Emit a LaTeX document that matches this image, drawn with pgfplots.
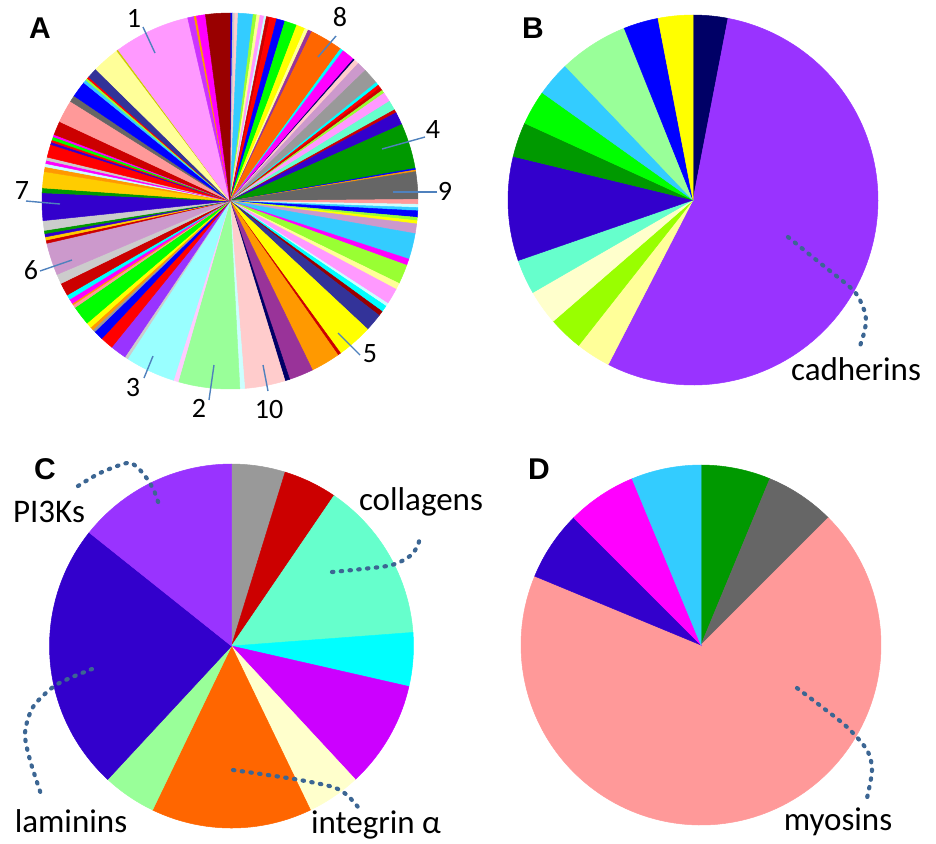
\documentclass[border=0pt]{standalone}
\usepackage{pgfplots}
\pgfplotsset{compat=1.18}
\usepackage{fontspec}
\setmainfont{Carlito}
\newfontfamily\arialfont{Liberation Sans}

\definecolor{darkred}{HTML}{990000}
\definecolor{dkredb}{HTML}{CC0000}
\definecolor{pblue}{HTML}{0000FF}
\definecolor{ltgray}{HTML}{CCCCCC}
\definecolor{ltpink}{HTML}{FFCCCC}
\definecolor{sky}{HTML}{33CCFF}
\definecolor{ygreen}{HTML}{99FF33}
\definecolor{ygreenb}{HTML}{99FF00}
\definecolor{ltyellow}{HTML}{FFFF99}
\definecolor{paleyellow}{HTML}{FFFFCC}
\definecolor{ppink}{HTML}{FF99FF}
\definecolor{ltcyan}{HTML}{CCFFFF}
\definecolor{ltcyanb}{HTML}{99FFFF}
\definecolor{pred}{HTML}{FF0000}
\definecolor{lime}{HTML}{00FF00}
\definecolor{pyellow}{HTML}{FFFF00}
\definecolor{purpleb}{HTML}{993399}
\definecolor{porange}{HTML}{FF6600}
\definecolor{orangeb}{HTML}{FF9900}
\definecolor{pcyan}{HTML}{00FFFF}
\definecolor{pmagenta}{HTML}{FF00FF}
\definecolor{navy}{HTML}{000066}
\definecolor{plum}{HTML}{CC99CC}
\definecolor{pgray}{HTML}{999999}
\definecolor{dgray}{HTML}{666666}
\definecolor{aqua}{HTML}{66FFCC}
\definecolor{indigo}{HTML}{3300CC}
\definecolor{pgreen}{HTML}{009900}
\definecolor{gold}{HTML}{FFCC00}
\definecolor{salmon}{HTML}{FF9999}
\definecolor{slate}{HTML}{333399}
\definecolor{ltgreen}{HTML}{99FF99}
\definecolor{pinklt}{HTML}{FFCCFF}
\definecolor{violet}{HTML}{9933FF}
\definecolor{violetb}{HTML}{CC33FF}
\definecolor{violetc}{HTML}{CC00FF}
\definecolor{olive}{HTML}{CCCC00}
\definecolor{leader}{HTML}{4F81BD}
\definecolor{dotc}{HTML}{3C6693}

% one slice: cx, cy, r, start angle, end angle (clockwise from 12 o'clock), colour
\newcommand\pieslice[6]{%
  \pgfmathsetmacro\myspan{#5-#4}%
  \pgfmathtruncatemacro\nseg{max(1,ceil(\myspan/2))}%
  \pgfmathsetmacro\mystep{\myspan/\nseg}%
  \xdef\coordlist{(#1,#2)}%
  \foreach \k in {0,...,\nseg}{%
    \pgfmathsetmacro\ang{#4+\mystep*\k}%
    \pgfmathsetmacro\px{#1+#3*sin(\ang)}%
    \pgfmathsetmacro\py{#2-#3*cos(\ang)}%
    \xdef\coordlist{\coordlist (\px,\py)}%
  }%
  \edef\temp{\noexpand\addplot[fill=#6,draw=#6,line width=0.25pt] coordinates {\coordlist} -- cycle;}%
  \temp
}
% a pie: cx, cy, r, degrees per unit, list value/colour
\newcommand\drawpie[5]{%
  \gdef\pieacc{0}%
  \pgfmathsetmacro\unitdeg{#4}%
  \foreach \v/\c in {#5}{%
    \pgfmathsetmacro\aone{\pieacc}%
    \pgfmathsetmacro\atwo{\pieacc+\v*\unitdeg}%
    \pieslice{#1}{#2}{#3}{\aone}{\atwo}{\c}%
    \xdef\pieacc{\atwo}%
  }%
}

\begin{document}
\begin{tikzpicture}
\begin{axis}[at={(0,0)},anchor=south west,width=468pt,height=421.5pt,scale only axis,
  xmin=0,xmax=936,ymin=0,ymax=843,y dir=reverse,hide axis,clip=false]

% ---------- Pie A (values in degrees) ----------
\drawpie{230}{201}{188}{1}{0.8/pblue,0.7/ltgray,1.0/ltpink,4.6/sky,1.1/ygreen,1.0/ltyellow,1.3/ppink,0.7/ltcyan,1.1/dkredb,2.1/pred,2.6/pblue,3.8/lime,2.7/pyellow,1.1/ltyellow,1.2/purpleb,10.2/porange,1.0/pcyan,4.0/pmagenta,0.5/navy,1.5/ltpink,3.0/plum,5.0/pgray,1.0/pcyan,1.0/pred,1.0/dkredb,1.0/ygreen,3.0/ppink,3.0/aqua,1.0/dkredb,4.0/indigo,14.0/pgreen,0.5/pblue,0.5/orangeb,8.5/dgray,1.5/salmon,1.0/ltcyan,1.0/sky,2.0/pblue,1.0/ygreen,1.0/pyellow,3.0/plum,8.0/sky,2.0/pmagenta,6.0/ygreen,2.0/ltyellow,5.0/ppink,1.0/ltcyan,2.0/pcyan,1.5/darkred,5.5/slate,11.0/pyellow,1.0/dkredb,9.0/orangeb,7.5/purpleb,1.5/navy,12.5/ltpink,1.5/ltcyan,19.0/ltgreen,1.5/pinklt,15.5/ltcyanb,1.0/ltgray,5.0/violet,4.0/pred,3.0/pblue,0.8/pgray,1.0/orangeb,1.7/pyellow,6.0/lime,1.0/salmon,0.5/orangeb,1.5/pmagenta,1.5/pcyan,4.0/dkredb,3.0/ltgray,10.0/plum,1.0/dkredb,1.0/gold,1.0/indigo,1.0/pgreen,3.0/ltgray,8.5/indigo,1.5/pgreen,5.0/gold,1.5/orangeb,1.0/ltcyan,1.0/pmagenta,1.0/ltgray,4.0/pred,0.8/indigo,0.7/pred,1.0/lime,0.7/pmagenta,4.3/dkredb,7.0/salmon,2.0/dgray,5.0/pblue,1.0/sky,0.7/ygreen,0.6/pred,3.2/slate,8.5/ltyellow,0.5/olive,23.5/ppink,2.0/violetb,0.7/orangeb,2.8/pmagenta,7.5/darkred}

% ---------- Pie B (33 units) ----------
\drawpie{693}{200}{185}{360/33}{1/navy,18/violet,1/ltyellow,1/ygreenb,1/paleyellow,1/aqua,3/indigo,1/pgreen,1/lime,1/sky,2/ltgreen,1/pblue,1/pyellow}

% ---------- Pie C (21 units) ----------
\drawpie{231.5}{646}{182}{360/21}{1/pgray,1/dkredb,3/aqua,1/pcyan,2/violetc,1/paleyellow,3/porange,1/ltgreen,5/indigo,3/violet}

% ---------- Pie D (16 units) ----------
\drawpie{701}{645}{180}{360/16}{1/pgreen,1/dgray,11/salmon,1/indigo,1/pmagenta,1/sky}

% ---------- leader lines of A ----------
\addplot[draw=leader,line width=0.7pt] coordinates {(143,27) (155,53)};
\addplot[draw=leader,line width=0.7pt] coordinates {(336,36) (318,57)};
\addplot[draw=leader,line width=0.7pt] coordinates {(425,137) (382,149)};
\addplot[draw=leader,line width=0.7pt] coordinates {(437,192) (393,192)};
\addplot[draw=leader,line width=0.7pt] coordinates {(26,201) (60,204)};
\addplot[draw=leader,line width=0.7pt] coordinates {(40,271) (72,260)};
\addplot[draw=leader,line width=0.7pt] coordinates {(360,355) (338,333)};
\addplot[draw=leader,line width=0.7pt] coordinates {(144,378) (153,356)};
\addplot[draw=leader,line width=0.7pt] coordinates {(209,400) (214,365)};
\addplot[draw=leader,line width=0.7pt] coordinates {(268,391) (263,365)};

% ---------- dotted curves ----------
\pgfplotsset{dotcurve/.style={smooth,draw=dotc,line width=2.1pt,line cap=round,dash pattern=on 0.7pt off 3.7pt}}
\addplot[dotcurve] coordinates {(788,237) (820,263) (853,290) (863,307) (866,320) (864,333) (859,349)};
\addplot[dotcurve] coordinates {(78,486) (100,473) (127,463) (137,467) (148,480) (155,493) (159,505)};
\addplot[dotcurve] coordinates {(332,572) (362,569) (392,565) (410,556) (418,545) (420,534)};
\addplot[dotcurve] coordinates {(92,669) (70,678) (53,687) (33,707) (25,733) (30,760) (42,797)};
\addplot[dotcurve] coordinates {(233,770) (268,775) (300,780) (333,787) (347,795) (358,807)};
\addplot[dotcurve] coordinates {(797,688) (822,707) (847,727) (867,750) (872,770) (867,798)};

% ---------- texts ----------
\tikzset{panel/.style={font=\arialfont\bfseries\fontsize{15}{17}\selectfont,inner sep=0pt}}
\node[panel] at (axis cs:40,28) {A};
\node[panel] at (axis cs:533,28) {B};
\node[panel] at (axis cs:45,469) {C};
\node[panel] at (axis cs:539,469) {D};

\tikzset{num/.style={font=\fontsize{14}{16}\selectfont,inner sep=0pt}}
\node[num] at (axis cs:134,18) {1};
\node[num] at (axis cs:340,17) {8};
\node[num] at (axis cs:433,129) {4};
\node[num] at (axis cs:445,191) {9};
\node[num] at (axis cs:22,191) {7};
\node[num] at (axis cs:31,270) {6};
\node[num] at (axis cs:370,354) {5};
\node[num] at (axis cs:133,387) {3};
\node[num] at (axis cs:199,408) {2};
\node[num] at (axis cs:269,409) {10};

\tikzset{lab/.style={font=\fontsize{16.5}{19}\selectfont,anchor=base,inner sep=0pt}}
\node[lab] at (axis cs:856,380) {cadherins};
\node[lab] at (axis cs:49,522) {PI3Ks};
\node[lab] at (axis cs:421,510) {collagens};
\node[lab] at (axis cs:71,832) {laminins};
\node[lab] at (axis cs:376,833) {integrin α};
\node[lab] at (axis cs:838,830) {myosins};
\end{axis}
\pgfresetboundingbox
\path (0,0) rectangle (468pt,421.5pt);
\end{tikzpicture}
\end{document}
